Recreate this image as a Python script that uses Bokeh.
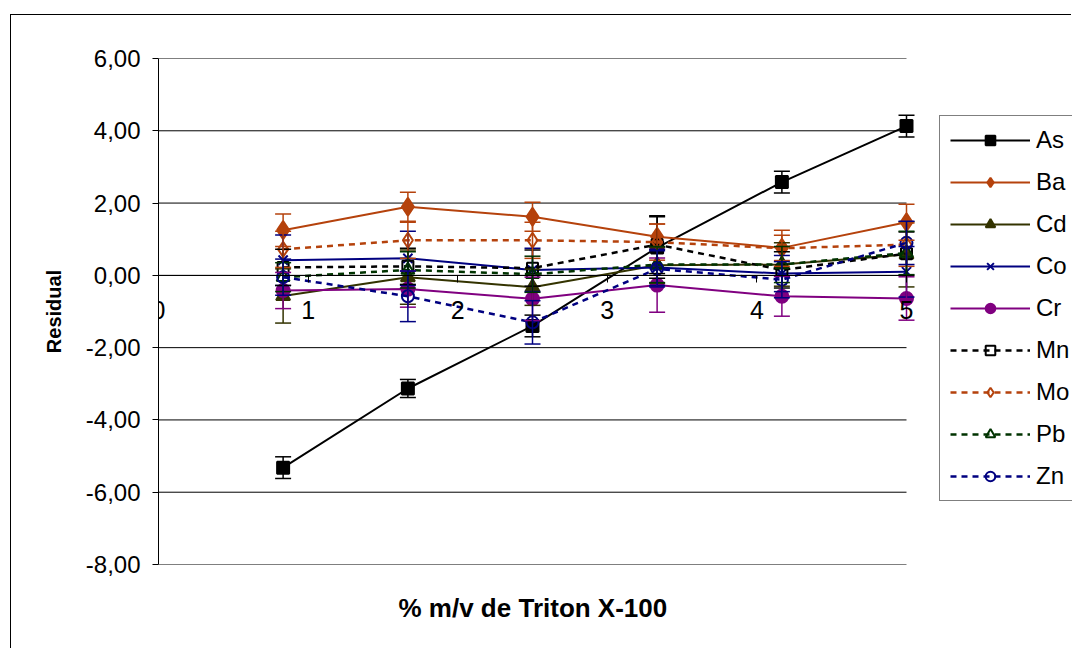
from bokeh.plotting import figure
from bokeh.models import (ColumnDataSource, Whisker, TeeHead, Legend, LegendItem,
                          FixedTicker, LinearAxis, Title, Range1d, Grid)
from bokeh.embed import file_html
from bokeh.resources import INLINE

# ---------------- data ----------------
x_vals = [0.833, 1.667, 2.5, 3.333, 4.167, 5.0]

names = ["As", "Ba", "Cd", "Co", "Cr", "Mn", "Mo", "Pb", "Zn"]

As = [-5.32, -3.13, -1.40, 0.77, 2.58, 4.13]
Ba = [1.25, 1.90, 1.62, 1.07, 0.76, 1.47]
Cd = [-0.57, -0.05, -0.33, 0.28, 0.30, 0.58]
Co = [0.42, 0.47, 0.15, 0.22, 0.05, 0.10]
Cr = [-0.42, -0.38, -0.65, -0.27, -0.58, -0.64]
Mn = [0.22, 0.25, 0.20, 0.85, 0.15, 0.60]
Mo = [0.72, 0.97, 0.97, 0.92, 0.75, 0.85]
Pb = [-0.05, 0.15, 0.03, 0.30, 0.30, 0.62]
Zn = [-0.05, -0.58, -1.30, 0.18, -0.12, 0.90]

As_err = [0.30, 0.25, 0.30, 0.85, 0.30, 0.30]
Ba_err = [0.45, 0.40, 0.40, 0.35, 0.35, 0.50]
Cd_err = [0.75, 0.75, 0.50, 0.50, 0.60, 0.90]
Co_err = [0.70, 0.75, 0.60, 0.50, 0.50, 0.70]
Cr_err = [0.50, 0.50, 0.60, 0.75, 0.55, 0.60]
Mn_err = [0.50, 0.50, 0.50, 0.80, 0.50, 0.60]
Mo_err = [0.50, 0.50, 0.50, 0.50, 0.50, 0.60]
Pb_err = [0.40, 0.50, 0.50, 0.50, 0.50, 0.60]
Zn_err = [0.50, 0.70, 0.60, 0.50, 0.50, 0.60]

y_ticks = [-8, -6, -4, -2, 0, 2, 4, 6]
y_tick_labels = ["-8,00", "-6,00", "-4,00", "-2,00", "0,00", "2,00", "4,00", "6,00"]
x_ticks = [0, 1, 2, 3, 4, 5]
x_tick_labels = ["0", "1", "2", "3", "4", "5"]

x_title = "% m/v de Triton X-100"
y_title = "Residual"

values = [As, Ba, Cd, Co, Cr, Mn, Mo, Pb, Zn]
errors = [As_err, Ba_err, Cd_err, Co_err, Cr_err, Mn_err, Mo_err, Pb_err, Zn_err]

# ---------------- styles ----------------
BROWN = "#B5420C"
styles = {
    "As": dict(color="black", dash="solid", marker="square", size=12, filled=True),
    "Ba": dict(color=BROWN, dash="solid", marker="diamond", size=18, filled=True),
    "Cd": dict(color="#333300", dash="solid", marker="triangle", size=14, filled=True),
    "Co": dict(color="#000080", dash="solid", marker="x", size=13, filled=True),
    "Cr": dict(color="#800080", dash="solid", marker="circle", size=13, filled=True),
    "Mn": dict(color="black", dash="6 5", marker="square", size=11, filled=False),
    "Mo": dict(color=BROWN, dash="6 5", marker="diamond", size=15, filled=False),
    "Pb": dict(color="#003300", dash="6 5", marker="triangle", size=13, filled=False),
    "Zn": dict(color="#000080", dash="6 5", marker="circle", size=12, filled=False),
}

FONT = "Liberation Sans"

# plot area: x from 0 to 5 occupies 748 px; the frame continues to the page edge
# (914 px) so that the legend can sit inside it, cut at the right edge.
x_end = x_ticks[-1] * 914.0 / 748.0

p = figure(width=1061, height=634, x_range=Range1d(x_ticks[0], x_end),
           y_range=Range1d(y_ticks[0], y_ticks[-1]),
           output_backend="svg", toolbar_location=None,
           x_axis_location=None, y_axis_location=None,
           min_border_left=147, min_border_right=0, min_border_top=43,
           min_border_bottom=82)
p.outline_line_color = None
p.background_fill_color = "white"
p.border_fill_color = "white"
p.styles = {"border-left": "1px solid black", "border-top": "1px solid black",
            "margin-left": "10px", "margin-top": "14px"}

# remove default grids; draw horizontal black gridlines over the x span 0..5
p.center = [r for r in p.center if not isinstance(r, Grid)]
n = len(y_ticks)
p.segment(x0=[x_ticks[0]] * n, x1=[x_ticks[-1]] * n, y0=y_ticks, y1=y_ticks,
          line_color="black", line_width=1)

# y axis
yaxis = LinearAxis(ticker=FixedTicker(ticks=y_ticks),
                   major_label_overrides=dict(zip(y_ticks, y_tick_labels)),
                   axis_label=y_title, axis_label_text_font=FONT,
                   axis_label_text_font_style="bold", axis_label_text_font_size="20px",
                   axis_label_text_color="black", axis_label_standoff=18,
                   major_label_text_font=FONT, major_label_text_font_size="24px",
                   major_label_text_color="black",
                   major_label_standoff=12, major_tick_out=6, major_tick_in=0,
                   minor_tick_out=0, minor_tick_in=0,
                   axis_line_color="black", major_tick_line_color="black")
p.add_layout(yaxis, "left")

# x axis crossing at y = 0
xaxis = LinearAxis(ticker=FixedTicker(ticks=x_ticks), fixed_location=0,
                   bounds=(x_ticks[0], x_ticks[-1]),
                   major_label_overrides=dict(zip(x_ticks, x_tick_labels)),
                   major_label_text_font=FONT, major_label_text_font_size="25px",
                   major_label_text_color="black",
                   major_label_standoff=19, major_tick_out=7, major_tick_in=0,
                   minor_tick_out=0, minor_tick_in=0,
                   axis_line_color="black", major_tick_line_color="black")
p.add_layout(xaxis, "below")

p.add_layout(Title(text=x_title, align="left", offset=240, text_font=FONT,
                   text_color="black", text_font_style="bold",
                   text_font_size="26px", standoff=53), "below")

items = []
for name, ys, errs in zip(names, values, errors):
    st = styles[name]
    c = st["color"]
    src = ColumnDataSource(dict(x=x_vals, y=ys,
                                upper=[a + b for a, b in zip(ys, errs)],
                                lower=[a - b for a, b in zip(ys, errs)]))
    p.add_layout(Whisker(source=src, base="x", upper="upper", lower="lower",
                         line_color=c, line_width=1.5, level="glyph",
                         upper_head=TeeHead(size=16, line_color=c, line_width=1.5),
                         lower_head=TeeHead(size=16, line_color=c, line_width=1.5)))
    lw = 2 if st["dash"] == "solid" else 2.5
    lr = p.line("x", "y", source=src, line_color=c, line_width=lw, line_dash=st["dash"])
    if st["filled"]:
        sr = p.scatter("x", "y", source=src, marker=st["marker"], size=st["size"],
                       fill_color=c, line_color=c, line_width=2)
    else:
        sr = p.scatter("x", "y", source=src, marker=st["marker"], size=st["size"],
                       fill_color=None, line_color=c, line_width=2)
    items.append(LegendItem(label=name, renderers=[lr, sr]))

legend = Legend(items=items, location=(781, 63), label_text_font=FONT,
                label_text_font_size="24px", label_text_color="black",
                glyph_width=80, glyph_height=24,
                label_height=24, label_standoff=6, spacing=14, padding=10,
                margin=0, border_line_color="black", border_line_width=1,
                background_fill_color="white", background_fill_alpha=1)
p.add_layout(legend, "center")

open("out.html", "w").write(file_html(p, INLINE))
